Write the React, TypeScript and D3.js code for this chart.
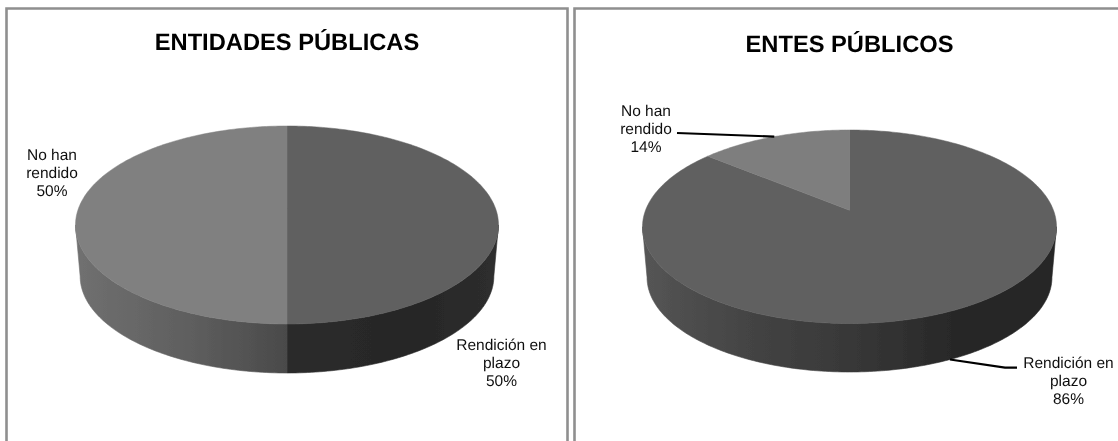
import React from "react";
import * as d3 from "d3";

const leftCategories = ["Rendición en plazo", "No han rendido"];
const leftValues = [50, 50];
const rightCategories = ["Rendición en plazo", "No han rendido"];
const rightValues = [86, 14];

const WIDTH = 1118;
const HEIGHT = 441;
const FONT = '"Liberation Sans", Arial, sans-serif';
const P = 0.171; // perspective of the tilted disc

type Stop = [number, string];
type PanelSpec = {
  id: string; title: string; titleY: number; cx: number; top: number; bottom: number; rx: number; base: number;
  categories: string[]; values: number[]; topColors: string[]; grads: Stop[][];
  labels: { lines: string[]; x: number; y: number; elbow?: [number, number][]; side?: "top" | "bottom" }[];
};

function Pie3D({ s }: { s: PanelSpec }) {
  const H = (s.bottom - s.top) / (1 / (1 + P) + 1 / (1 - P));
  const apex = s.top + H / (1 + P);
  const R = s.rx * Math.sqrt(1 - P * P);
  const k = 0.978;
  const Hb = H * k;
  const Rb = R * k;
  const apexB = s.base - Hb / (1 - P);
  const topPt = (t: number): [number, number] => {
    const w = 1 + P * Math.cos(t);
    return [s.cx + (R * Math.sin(t)) / w, apex - (H * Math.cos(t)) / w];
  };
  const botPt = (t: number): [number, number] => {
    const w = 1 + P * Math.cos(t);
    return [s.cx + (Rb * Math.sin(t)) / w, apexB - (Hb * Math.cos(t)) / w];
  };
  const pie = d3.pie<number>().sort(null)(s.values);
  const line = d3.line<[number, number]>();
  const samples = (a: number, b: number) => {
    const n = Math.max(2, Math.ceil(Math.abs(b - a) * 60));
    return d3.range(n + 1).map((i) => a + ((b - a) * i) / n);
  };
  const edge = Math.acos(-P);
  const sideFor = (a: number, b: number) => {
    const from = Math.max(a, edge);
    const to = Math.min(b, 2 * Math.PI - edge);
    if (to <= from) return null;
    const ts = samples(from, to);
    return line([...ts.map(topPt), ...ts.slice().reverse().map(botPt)]) + "Z";
  };
  return (
    <g>
      <defs>
        {s.grads.map((g, i) => (
          <linearGradient key={i} id={`${s.id}-g${i}`} gradientUnits="userSpaceOnUse" x1={s.cx - s.rx} x2={s.cx + s.rx} y1={0} y2={0}>
            {g.map(([o, c], j) => (
              <stop key={j} offset={o} stopColor={c} />
            ))}
          </linearGradient>
        ))}
      </defs>
      <g filter="url(#soft)">
        {pie.map((d, i) => {
          const p = sideFor(d.startAngle, d.endAngle);
          return p ? <path key={i} d={p} fill={`url(#${s.id}-g${i})`} stroke={`url(#${s.id}-g${i})`} strokeWidth={0.6} /> : null;
        })}
        {pie.map((d, i) => {
          const ts = samples(d.startAngle, d.endAngle);
          const pts: [number, number][] = [[s.cx, apex], ...ts.map(topPt)];
          return <path key={i} d={line(pts) + "Z"} fill={s.topColors[i]} stroke={s.topColors[i]} strokeWidth={0.5} />;
        })}
      </g>
      <g filter="url(#softText)">
        {s.labels.map((l, i) => {
          const d = pie[i];
          const mid = (d.startAngle + d.endAngle) / 2;
          const anchor = l.side === "bottom" ? botPt(mid) : topPt(mid);
          return (
            <g key={i}>
              {l.elbow && <path d={line([anchor, ...l.elbow]) ?? ""} fill="none" stroke="#000" strokeWidth={2.2} />}
              {l.lines.map((t, j) => (
                <text key={j} x={l.x} y={l.y + j * 18.2} textAnchor="middle" fontFamily={FONT} fontSize={15.5} fill="#111" textRendering="geometricPrecision">
                  {t}
                </text>
              ))}
            </g>
          );
        })}
        <text x={s.cx} y={s.titleY} textAnchor="middle" fontFamily={FONT} fontSize={23.7} fontWeight="bold" fill="#000" textRendering="geometricPrecision">
          {s.title}
        </text>
      </g>
    </g>
  );
}

const leftSpec: PanelSpec = {
  id: "l", title: "ENTIDADES PÚBLICAS", titleY: 50, cx: 287, top: 126, bottom: 324, rx: 211.5, base: 373,
  categories: leftCategories, values: leftValues,
  topColors: ["#606060", "#808080"],
  grads: [
    [[0, "#303030"], [0.5, "#2c2c2c"], [0.8, "#262626"], [1, "#2e2e2e"]],
    [[0, "#707070"], [0.25, "#606060"], [0.5, "#4a4a4a"], [1, "#4a4a4a"]],
  ],
  labels: [
    { lines: ["Rendición en", "plazo", "50%"], x: 501.5, y: 350 },
    { lines: ["No han", "rendido", "50%"], x: 52, y: 160 },
  ],
};

const rightSpec: PanelSpec = {
  id: "r", title: "ENTES PÚBLICOS", titleY: 51.5, cx: 849.5, top: 130, bottom: 323.5, rx: 207, base: 372,
  categories: rightCategories, values: rightValues,
  topColors: ["#606060", "#7e7e7e"],
  grads: [
    [[0, "#555555"], [0.25, "#444444"], [0.5, "#383838"], [0.75, "#282828"], [1, "#262626"]],
    [[0, "#555555"], [1, "#555555"]],
  ],
  labels: [
    { lines: ["Rendición en", "plazo", "86%"], x: 1068.5, y: 368, side: "bottom", elbow: [[1005, 367.7], [1017, 367.7]] },
    { lines: ["No han", "rendido", "14%"], x: 646, y: 116, side: "top", elbow: [[677, 133]] },
  ],
};

export default function App() {
  const frame = "#8f8f8f";
  return (
    <svg width={WIDTH} height={HEIGHT} style={{ position: "absolute", left: 0, top: 0, display: "block", background: "#fff" }}>
      <defs>
        <filter id="soft" x="-5%" y="-5%" width="110%" height="110%">
          <feGaussianBlur stdDeviation={0.45} />
        </filter>
        <filter id="softText" x="-5%" y="-5%" width="110%" height="110%">
          <feGaussianBlur stdDeviation={0.25} />
        </filter>
      </defs>
      <path d={`M6.5,441V8.5H567.5V441`} fill="none" stroke={frame} strokeWidth={2.6} />
      <path d={`M574.5,441V8.5H1118`} fill="none" stroke={frame} strokeWidth={2.6} />
      <Pie3D s={leftSpec} />
      <Pie3D s={rightSpec} />
    </svg>
  );
}
